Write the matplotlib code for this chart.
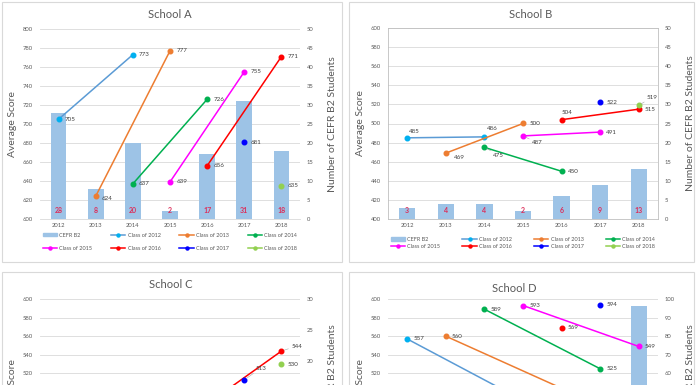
import numpy as np
import matplotlib
matplotlib.use('Agg')
import matplotlib.pyplot as plt
from matplotlib.patches import Rectangle
from matplotlib.lines import Line2D

plt.rcParams['font.family'] = ['Lato', 'DejaVu Sans']

# Data
years = [2012, 2013, 2014, 2015, 2016, 2017, 2018]
class_names = ['Class of 2012', 'Class of 2013', 'Class of 2014', 'Class of 2015',
               'Class of 2016', 'Class of 2017', 'Class of 2018']

# School A
a_bars = [28, 8, 20, 2, 17, 31, 18]
a_years = [[2012, 2014], [2013, 2015], [2014, 2016], [2015, 2017], [2016, 2018], [2017], [2018]]
a_scores = [[705, 773], [624, 777], [637, 726], [639, 755], [656, 771], [681], [635]]

# School B
b_bars = [3, 4, 4, 2, 6, 9, 13]
b_years = [[2012, 2014], [2013, 2015], [2014, 2016], [2015, 2017], [2016, 2018], [2017], [2018]]
b_scores = [[485, 486], [469, 500], [475, 450], [487, 491], [504, 515], [522], [519]]

# School C (only the top of the chart is visible)
c_bars = [np.nan] * 7
c_years = [[], [], [], [], [2016, 2018], [2017], [2018]]
c_scores = [[], [], [], [], [487, 544], [513], [530]]

# School D (only the top of the chart is visible)
d_bars = [np.nan, np.nan, np.nan, np.nan, np.nan, np.nan, 96]
d_years = [[2012, 2015], [2013, 2016], [2014, 2017], [2015, 2018], [2016], [2017], []]
d_scores = [[557, 491], [560, 504], [589, 525], [593, 549], [569], [594], []]

# Styles
line_colors = ['#5B9BD5', '#ED7D31', '#00B050', '#FF00FF', '#FF0000', '#0000FF', '#92D050']
marker_colors = ['#00B0F0', '#ED7D31', '#00B050', '#FF00FF', '#FF0000', '#0000FF', '#92D050']
bar_color = '#9DC3E6'
txt = '#595959'
grid_c = '#D9D9D9'

# label offsets (points), keyed by (class index, point index); default is right of point
b_offsets = {(0, 0): (1.5, 4.5), (0, 1): (2, 6), (1, 0): (6, -3), (2, 0): (6.5, -5.5, 1),
             (3, 0): (6.5, -5, 1), (4, 0): (0, 5.3), (6, 0): (6, 6, 1)}
a_offsets = {(1, 0): (4.5, -2)}
c_offsets = {(4, 1): (7, 3.6, 1), (5, 0): (8, 8.5, 1)}
d_offsets = {}

W, H = 696, 385
fig = plt.figure(figsize=(W / 100, H / 100), dpi=100)
fig.patch.set_facecolor('white')


def frame(x0, y0, x1, y1):
    fig.add_artist(Rectangle((x0 / W, 1 - y1 / H), (x1 - x0) / W, (y1 - y0) / H,
                             transform=fig.transFigure, fill=False, ec='#D9D9D9', lw=0.8))


frame(2, 2, 342, 262)
frame(349, 2, 694, 262)
frame(2, 272, 342, 420)
frame(349, 272, 694, 420)


def school(px, title, title_xy, ylim, rlim, rstep, bars, cls_years, cls_scores, offsets,
           box=False, legend_y=None, legend_sp=1.2, cropped=False):
    x0, y0, x1, y1 = px
    ax = fig.add_axes([x0 / W, 1 - y1 / H, (x1 - x0) / W, (y1 - y0) / H])
    axr = ax.twinx()
    ax.set_zorder(2)
    axr.set_zorder(1)
    ax.patch.set_visible(False)

    x = np.arange(len(years))
    ax.set_xlim(-0.5, len(years) - 0.5)
    ax.set_ylim(*ylim)
    axr.set_ylim(*rlim)
    lt = np.arange(ylim[0], ylim[1] + 1, 20)
    rt = np.arange(rlim[0], rlim[1] + 1, rstep)
    if cropped:
        # only the ticks that fall inside the visible part of the picture
        vis = 1 - (H - y0) / (y1 - y0) + 0.02
        lt = [v for v in lt if (v - ylim[0]) / (ylim[1] - ylim[0]) >= vis]
        rt = [v for v in rt if (v - rlim[0]) / (rlim[1] - rlim[0]) >= vis]
    ax.set_yticks(lt)
    axr.set_yticks(rt)
    ax.set_ylim(*ylim)
    axr.set_ylim(*rlim)
    ax.set_xticks(x)
    ax.set_xticklabels([] if cropped else [str(y) for y in years])

    # gridlines behind bars
    for v in lt:
        f = (v - ylim[0]) / (ylim[1] - ylim[0])
        axr.plot([0, 1], [f, f], transform=axr.transAxes, color=grid_c, lw=0.6, zorder=0)

    axr.bar(x, bars, width=0.42, color=bar_color, zorder=1)
    if not cropped:
        for xi, b in zip(x, bars):
            if not np.isnan(b):
                axr.text(xi, 0.045, str(b), transform=axr.get_xaxis_transform(), ha='center',
                         va='center', fontsize=5, fontweight='bold', color='#DC2E5A', zorder=3)

    for k in range(len(class_names)):
        xs = [yr - years[0] for yr in cls_years[k]]
        ys = cls_scores[k]
        if not xs:
            continue
        ax.plot(xs, ys, color=line_colors[k], lw=1.1, marker='o', ms=3.3,
                mfc=marker_colors[k], mec=marker_colors[k], zorder=3, clip_on=False)
        for j, (xx, yy) in enumerate(zip(xs, ys)):
            if cropped and yy < 508:
                continue
            off = offsets.get((k, j), (4.5, 0))
            ap = None
            if len(off) > 2:
                ap = dict(arrowstyle='-', color='#A6A6A6', lw=0.4, shrinkA=0, shrinkB=2)
            ax.annotate(str(yy), (xx, yy), xytext=off[:2], textcoords='offset points',
                        ha='left', va='center', fontsize=4.5, color='#404040',
                        arrowprops=ap, zorder=4)

    for a in (ax, axr):
        a.tick_params(length=0, colors=txt, labelsize=4.2)
        for s in a.spines.values():
            s.set_visible(False)
    ax.tick_params(axis='y', pad=5)
    axr.tick_params(axis='y', pad=5)
    ax.tick_params(axis='x', pad=3)
    if box:
        for s in axr.spines.values():
            s.set_visible(True)
            s.set_color('#BFBFBF')
            s.set_linewidth(0.6)
    else:
        axr.spines['bottom'].set_visible(True)
        axr.spines['bottom'].set_color(grid_c)
        axr.spines['bottom'].set_linewidth(0.6)

    ax.set_ylabel('Average Score', fontsize=7.5, color=txt)
    axr.set_ylabel('Number of CEFR B2 Students', fontsize=7.5, color=txt)
    w = x1 - x0
    ax.yaxis.set_label_coords(-23 / w, 0.5)
    axr.yaxis.set_label_coords(1 + 28 / w, 0.5)

    fig.text(title_xy[0] / W, 1 - title_xy[1] / H, title, ha='center', va='center',
             fontsize=8, color=txt)

    if legend_y is not None:
        handles = [Rectangle((0, 0), 1, 1, color=bar_color)]
        for k in range(len(class_names)):
            handles.append(Line2D([], [], color=line_colors[k], lw=1.1, marker='o', ms=2.2,
                                  mfc=marker_colors[k], mec=marker_colors[k]))
        labels = ['CEFR B2'] + class_names
        order = [0, 4, 1, 5, 2, 6, 3, 7]
        yc = (y1 - legend_y) / (y1 - y0)
        ax.legend([handles[i] for i in order], [labels[i] for i in order], ncol=4,
                  loc='center', bbox_to_anchor=(0, yc, 1, 0), mode='expand', frameon=False,
                  fontsize=4, handlelength=2.6, handleheight=0.5, labelspacing=legend_sp,
                  borderpad=0, handletextpad=0.4, labelcolor=txt)
    return ax


school((40, 29, 300, 219), 'School A', (170, 14), (600, 800), (0, 50), 5,
       a_bars, a_years, a_scores, a_offsets, legend_y=242, legend_sp=1.5)
school((388, 28, 658, 219), 'School B', (531, 14), (400, 600), (0, 50), 5,
       b_bars, b_years, b_scores, b_offsets, box=True, legend_y=243, legend_sp=0.4)
school((40, 299, 300, 485), 'School C', (171, 285), (400, 600), (0, 30), 5,
       c_bars, c_years, c_scores, c_offsets, cropped=True)
school((388, 299, 658, 485), 'School D', (514, 289), (400, 600), (0, 100), 10,
       d_bars, d_years, d_scores, d_offsets, cropped=True)

fig.savefig('out.png', dpi=100, facecolor='white')
